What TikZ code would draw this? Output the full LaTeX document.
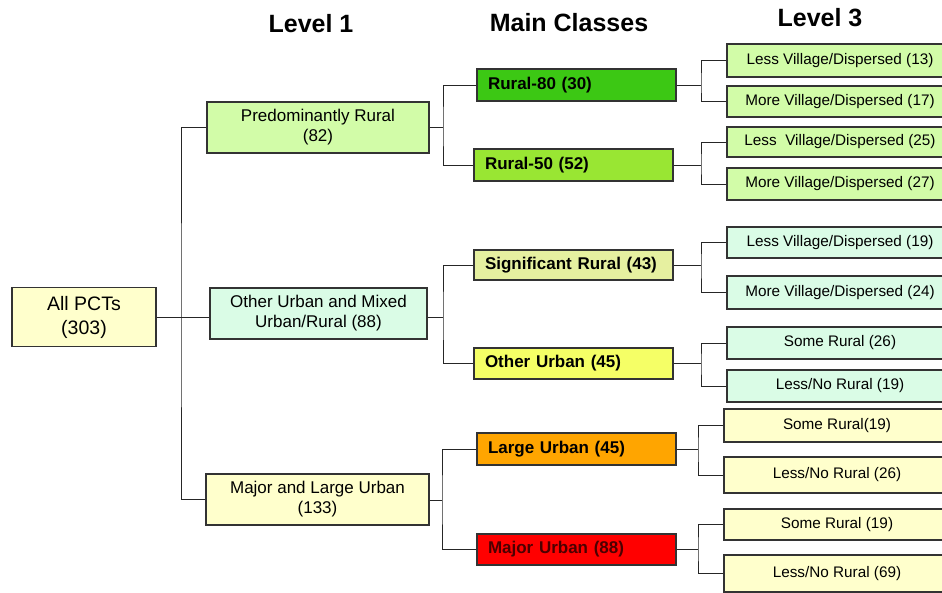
\documentclass[tikz,border=0pt]{standalone}
\usepackage{fontspec}
\setmainfont{Liberation Sans}
\usetikzlibrary{positioning}

\definecolor{hellgelb}{HTML}{FFFFCC}
\definecolor{gruenhell}{HTML}{D2FCA8}
\definecolor{minze}{HTML}{DAFCE6}
\definecolor{rural80}{HTML}{3CC814}
\definecolor{rural50}{HTML}{99E633}
\definecolor{sigrural}{HTML}{E6F0A0}
\definecolor{otherurban}{HTML}{F5FF66}
\definecolor{largeurban}{HTML}{FFA500}
\definecolor{majorurban}{HTML}{FF0000}

\begin{document}
\begin{tikzpicture}[
			x=1pt, y=-1pt,
			box/.style={draw=black!80, line width=1.1pt, inner sep=0pt, align=center},
			rootbox/.style={box, fill=hellgelb, minimum width=144pt, minimum height=59pt, font=\fontsize{19.5}{24}\selectfont},
			levbox/.style={box, minimum width=220pt, minimum height=51pt, font=\fontsize{17}{20}\selectfont},
			classbox/.style={box, text width=177pt, inner xsep=11pt, minimum height=32pt, align=left, font=\fontsize{17}{20}\selectfont\bfseries},
			subbox/.style={box, minimum width=226pt, minimum height=32pt, font=\fontsize{15.3}{17}\selectfont},
			greenbox/.style={subbox, fill=gruenhell},
			mintbox/.style={subbox, fill=minze},
			yellowbox/.style={subbox, fill=hellgelb},
			title/.style={font=\fontsize{25}{30}\selectfont\bfseries},
			link/.style={draw=black!85, line width=0.9pt}
			]
			% Bildausschnitt (rechte Kanten abgeschnitten)
			\clip (0,0) rectangle (942,592);
			
			% Ueberschriften
			\node[title] (t1) at (311,24) {Level 1};
			\node[title] (t2) at (569,23) {Main Classes};
			\node[title] (t3) at (820,18) {Level 3};
			
			% Wurzel und Level 1
			\node[rootbox] (all) at (84,317) {All PCTs\\(303)};
			\node[levbox, fill=gruenhell, minimum width=222pt] (pr) at (318,127.5) {Predominantly Rural\\(82)};
			\node[levbox, fill=minze, minimum width=217pt] (ou) at (318.5,313.5) {Other Urban and Mixed\\Urban/Rural (88)};
			\node[levbox, fill=hellgelb, minimum width=223pt] (mlu) at (317.5,499.5) {Major and Large Urban\\(133)};
			
			% Hauptklassen
			\node[classbox, fill=rural80] (r80) at (576.5,85) {Rural-80 (30)};
			\node[classbox, fill=rural50] (r50) at (573.5,165) {Rural-50 (52)};
			\node[classbox, fill=sigrural, minimum height=30pt] (sr) at (573.5,265) {Significant Rural (43)};
			\node[classbox, fill=otherurban, minimum height=31pt] (oub) at (573.5,363.5) {Other Urban (45)};
			\node[classbox, fill=largeurban] (lu) at (576.5,449) {Large Urban (45)};
			\node[classbox, fill=majorurban, minimum height=31pt, text=black!70!red] (mu) at (576.5,549.5) {Major Urban (88)};
			
			% Level 3
			\node[greenbox, minimum height=33pt] (g1) at (840,60.5) {Less Village/Dispersed (13)};
			\node[greenbox, minimum height=31pt] (g2) at (840,101.5) {More Village/Dispersed (17)};
			\node[greenbox, minimum height=30pt] (g3) at (840,142) {Less\ \ Village/Dispersed (25)};
			\node[greenbox] (g4) at (840,184) {More Village/Dispersed (27)};
			\node[mintbox, minimum height=31pt] (m1) at (840,242.5) {Less Village/Dispersed (19)};
			\node[mintbox, minimum height=33pt] (m2) at (840,292.5) {More Village/Dispersed (24)};
			\node[mintbox] (m3) at (840,343) {Some Rural (26)};
			\node[mintbox] (m4) at (840,386) {Less/No Rural (19)};
			\node[yellowbox, minimum height=33pt] (y1) at (837,425.5) {Some Rural(19)};
			\node[yellowbox, minimum height=36pt] (y2) at (837,475) {Less/No Rural (26)};
			\node[yellowbox, minimum height=31pt] (y3) at (837,524.5) {Some Rural (19)};
			\node[yellowbox, minimum height=37pt] (y4) at (837,573.5) {Less/No Rural (69)};
			
			% Verbindungen Wurzel -> Level 1
			\coordinate (b0) at (181,317);
			\draw[link] (all.east) -- (all.east -| ou.west);
			\draw[link] (pr.west) -| (b0) |- (mlu.west);
			
			% Level 1 -> Hauptklassen
			\coordinate (b1) at (443,127.5);
			\coordinate (b2) at (443,317);
			\coordinate (b3) at (442,500);
			\draw[link] (pr.east) -- (b1);
			\draw[link] (r80.west) -| (b1) |- (r50.west);
			\draw[link] (ou.east |- b2) -- (b2);
			\draw[link] (sr.west) -| (b2) |- (oub.west);
			\draw[link] (mlu.east |- b3) -- (b3);
			\draw[link] (lu.west) -| (b3) |- (mu.west);
			
			% Hauptklassen -> Level 3
			\coordinate (c1) at (701,85);
			\coordinate (c2) at (701,165);
			\coordinate (c3) at (701,265);
			\coordinate (c4) at (701,363.5);
			\coordinate (c5) at (698,449);
			\coordinate (c6) at (698,549.5);
			\draw[link] (r80.east) -- (c1);
			\draw[link] (g1.west) -| (c1) |- (g2.west);
			\draw[link] (r50.east) -- (c2);
			\draw[link] (g3.west) -| (c2) |- (g4.west);
			\draw[link] (sr.east) -- (c3);
			\draw[link] (m1.west) -| (c3) |- (m2.west);
			\draw[link] (oub.east) -- (c4);
			\draw[link] (m3.west) -| (c4) |- (m4.west);
			\draw[link] (lu.east) -- (c5);
			\draw[link] (y1.west) -| (c5) |- (y2.west);
			\draw[link] (mu.east) -- (c6);
			\draw[link] (y3.west) -| (c6) |- (y4.west);
		\end{tikzpicture}
\end{document}
